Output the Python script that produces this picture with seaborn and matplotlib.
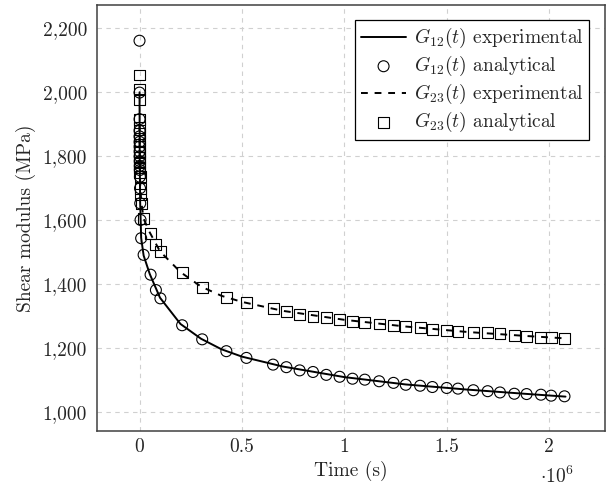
import numpy as np
import pandas as pd
import matplotlib
matplotlib.use("Agg")
import matplotlib.pyplot as plt
import matplotlib.ticker as mticker
import seaborn as sns

# ---- data ----
t_an = [0, 50, 100, 150, 200, 300, 400, 500, 700, 900, 1200, 1500, 2000, 2500,
        3500, 5000, 8000, 20000, 54000, 80000, 102000, 208000, 306000, 424000,
        522000, 652000, 717000, 782000, 847000, 912000, 977000, 1040000,
        1100000, 1170000, 1240000, 1300000, 1370000, 1430000, 1500000, 1555000,
        1630000, 1700000, 1760000, 1830000, 1890000, 1960000, 2010000, 2075000]
g12_an = [2161, 1999, 1916, 1880, 1862, 1845, 1830, 1815, 1800, 1785, 1770,
          1757, 1736, 1700, 1653, 1601, 1544, 1492, 1430, 1382, 1356, 1272,
          1228, 1191, 1170, 1149, 1141, 1131, 1126, 1117, 1111, 1105, 1102,
          1097, 1092, 1086, 1083, 1079, 1076, 1074, 1069, 1066, 1062, 1058,
          1057, 1055, 1052, 1050]
g23_an = [2054, 2010, 1976, 1916, 1890, 1870, 1850, 1830, 1812, 1795, 1780,
          1765, 1750, 1736, 1700, 1680, 1653, 1605, 1559, 1523, 1502, 1436,
          1391, 1359, 1342, 1323, 1316, 1307, 1300, 1295, 1289, 1284, 1281,
          1276, 1271, 1267, 1264, 1258, 1255, 1253, 1250, 1248, 1245, 1240,
          1238, 1234, 1233, 1230]

t_exp = [0, 1000, 3000, 8000, 20000, 50000, 100000, 200000, 300000, 400000,
         500000, 700000, 1000000, 1300000, 1600000, 1900000, 2080000]
g12_exp = [2000, 1790, 1660, 1545, 1490, 1432, 1358, 1276, 1230, 1197, 1174,
           1143, 1110, 1087, 1071, 1057, 1049]
g23_exp = [1900, 1790, 1720, 1660, 1605, 1562, 1503, 1438, 1393, 1364, 1345,
           1317, 1289, 1268, 1251, 1238, 1231]

y_ticks = [1000, 1200, 1400, 1600, 1800, 2000, 2200]
x_ticks = [0, 500000, 1000000, 1500000, 2000000]

sns.set_style("white")
plt.rcParams['font.family'] = ['cmr10', 'DejaVu Serif']
plt.rcParams['mathtext.fontset'] = 'cm'
plt.rcParams['axes.unicode_minus'] = False

FS = 14

fig = plt.figure(figsize=(6.06, 4.88), dpi=100)
ax = fig.add_axes([0.1596, 0.1174, 0.8388, 0.8726])

df_exp = pd.DataFrame({"t": t_exp, "g12": g12_exp, "g23": g23_exp})
df_an = pd.DataFrame({"t": t_an, "g12": g12_an, "g23": g23_an})

sns.lineplot(data=df_exp, x="t", y="g12", ax=ax, color="black", lw=1.4,
             label=r"$G_{12}(t)$ experimental", sort=False)
sns.scatterplot(data=df_an, x="t", y="g12", ax=ax, marker="o", s=62,
                facecolor="none", edgecolor="black", linewidth=0.8,
                label=r"$G_{12}(t)$ analytical", zorder=3)
sns.lineplot(data=df_exp, x="t", y="g23", ax=ax, color="black", lw=1.4,
             linestyle=(0, (3.5, 3.5)), label=r"$G_{23}(t)$ experimental", sort=False)
sns.scatterplot(data=df_an, x="t", y="g23", ax=ax, marker="s", s=62,
                facecolor="none", edgecolor="black", linewidth=0.8,
                label=r"$G_{23}(t)$ analytical", zorder=3)

ax.set_xlim(-209000, 2273000)
ax.set_ylim(942.5, 2273)
ax.set_xticks(x_ticks)
ax.set_yticks(y_ticks)
ax.xaxis.set_major_formatter(mticker.FuncFormatter(lambda v, p: f"{v/1e6:g}"))
ax.yaxis.set_major_formatter(mticker.FuncFormatter(lambda v, p: f"{int(v):,}"))
ax.grid(True, color="#d0d0d0", linestyle=(0, (4, 4)), linewidth=0.8)
ax.set_axisbelow(True)
for s in ax.spines.values():
    s.set_color("#404040")
    s.set_linewidth(1.1)
ax.tick_params(axis="x", labelsize=FS, direction="in", length=5,
               width=0.8, color="#808080", pad=5)
ax.tick_params(axis="y", labelsize=FS, direction="out", length=4,
               width=0.8, color="#404040", pad=3)
ax.set_xlabel("Time (s)", fontsize=FS, labelpad=4)
ax.set_ylabel("Shear modulus (MPa)", fontsize=FS, labelpad=5)
ax.text(0.905, -0.082, r"$\cdot 10^{6}$", transform=ax.transAxes,
        fontsize=FS, ha="center", va="top")

leg = ax.legend(loc="upper right", fontsize=FS, frameon=True, fancybox=False,
                edgecolor="black", framealpha=1, borderaxespad=0.8,
                handlelength=2.3, labelspacing=0.2, borderpad=0.3,
                handletextpad=0.4)
leg.get_frame().set_linewidth(0.9)

fig.savefig("out.png", dpi=100)
